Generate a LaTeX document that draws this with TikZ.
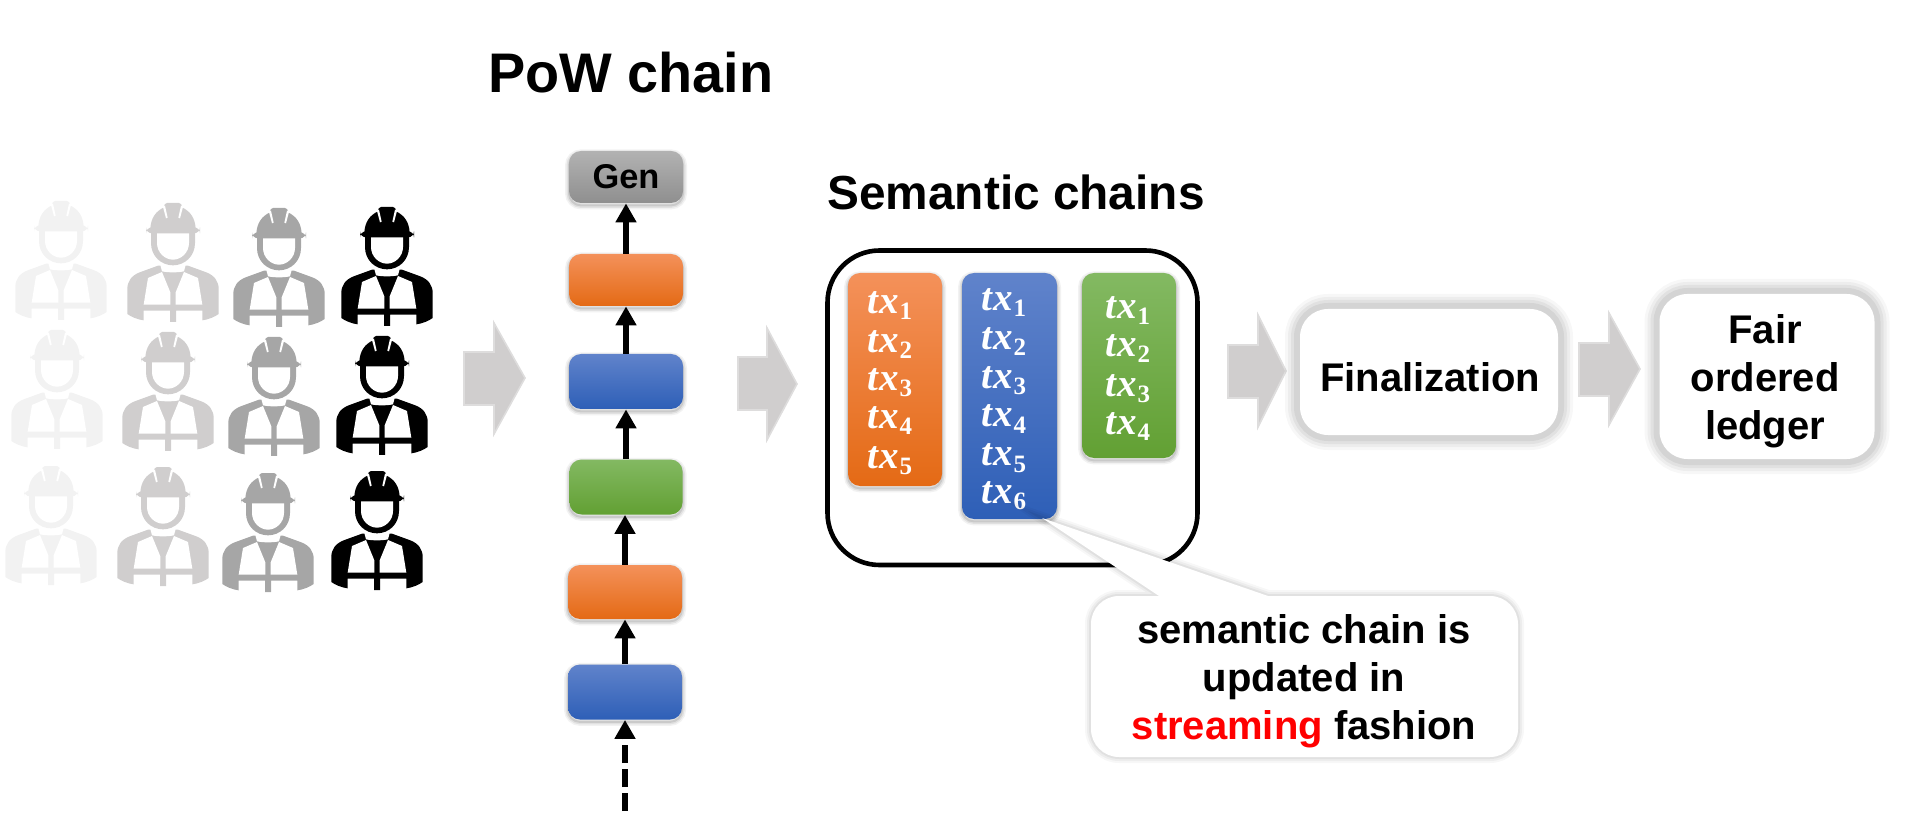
\documentclass[tikz,border=0pt]{standalone}
\usepackage{fontspec}
\setmainfont{Liberation Sans}
\newfontfamily\txfont{Liberation Serif}
\usetikzlibrary{arrows.meta}
\definecolor{wa}{HTML}{F2F2F2}
\definecolor{wb}{HTML}{D0CECE}
\definecolor{wc}{HTML}{A6A6A6}
\definecolor{wd}{HTML}{000000}
\definecolor{orTop}{HTML}{F4915A}\definecolor{orMid}{HTML}{F57C2C}\definecolor{orBot}{HTML}{E46A15}
\definecolor{blTop}{HTML}{6083CB}\definecolor{blMid}{HTML}{3E6EC4}\definecolor{blBot}{HTML}{2E5FB7}
\definecolor{grTop}{HTML}{83B962}\definecolor{grMid}{HTML}{6DAD3C}\definecolor{grBot}{HTML}{62A033}
\definecolor{gyTop}{HTML}{B2B2B2}\definecolor{gyBot}{HTML}{8F8F8F}
\tikzset{
  softshadow/.style={
    preaction={draw=black,draw opacity=.05,line width=4pt,transform canvas={yshift=-1.2pt}},
    preaction={draw=black,draw opacity=.07,line width=2.5pt,transform canvas={yshift=-1.2pt}},
    preaction={draw=black,draw opacity=.10,line width=1pt,transform canvas={yshift=-1.2pt}}},
  glow/.style={
    preaction={draw=black,draw opacity=.03,line width=15pt},
    preaction={draw=black,draw opacity=.04,line width=12pt},
    preaction={draw=black,draw opacity=.05,line width=9pt},
    preaction={draw=black,draw opacity=.06,line width=6pt}},
  lightglow/.style={
    preaction={draw=black,draw opacity=.03,line width=6pt},
    preaction={draw=black,draw opacity=.04,line width=4pt},
    preaction={draw=black,draw opacity=.05,line width=2pt}},
  blockbase/.style={rounded corners=6pt,inner sep=0pt,draw=none,softshadow,shade,shading angle=0},
  orangeblock/.style={blockbase,top color=orTop,middle color=orMid,bottom color=orBot},
  blueblock/.style={blockbase,top color=blTop,middle color=blMid,bottom color=blBot},
  greenblock/.style={blockbase,top color=grTop,middle color=grMid,bottom color=grBot},
  grayblock/.style={blockbase,top color=gyTop,bottom color=gyBot},
  chainarrow/.style={line width=2.6pt,-{Triangle[length=9.5pt,width=10pt]}},
  bigarrow/.style={fill=wb,draw=wb!70!white,line width=.8pt,line join=miter},
  whitebox/.style={fill=white,rounded corners=14pt,inner sep=0pt,align=center,glow},
  boxtext/.style={inner sep=0pt,align=center,font=\bfseries\fontsize{20}{24}\selectfont},
  txlabel/.style={text=white,inner sep=0pt,font=\txfont\bfseries\fontsize{19.5}{20}\selectfont},
  worker/.pic={
    \begin{scope}[scale=1/3]
    \fill[#1] (-45,188) -- (-100,208) .. controls (-125,218) and (-137,235) .. (-137,258) -- (-137,333)
      .. controls (-125,342) and (-105,350) .. (-88,352) -- (-88,323) -- (-9,323) -- (-9,357) -- (9,357)
      -- (9,323) -- (88,323) -- (88,352) .. controls (105,350) and (125,342) .. (137,333) -- (137,258)
      .. controls (137,235) and (125,218) .. (100,208) -- (45,188) -- cycle;
    \fill[white] (-75,225) -- (-33,207) -- (-8,268) -- (-8,305) -- (-88,305) -- cycle;
    \fill[white] (75,225) -- (33,207) -- (8,268) -- (8,305) -- (88,305) -- cycle;
    \fill[white] (-38,186) -- (38,186) -- (33,205) .. controls (15,209) and (-15,209) .. (-33,205) -- cycle;
    \fill[#1] (-66,85) -- (-66,120) .. controls (-66,160) and (-35,187) .. (0,187)
      .. controls (35,187) and (66,160) .. (66,120) -- (66,85) -- cycle;
    \fill[white] (-48,85) -- (-48,120) .. controls (-48,148) and (-25,170) .. (0,170)
      .. controls (25,170) and (48,148) .. (48,120) -- (48,85) -- cycle;
    \fill[#1] (-68,76) .. controls (-66,45) and (-52,25) .. (-27,13) -- (-25,4)
      .. controls (-24,1) and (-22,0) .. (-18,0) -- (18,0) .. controls (22,0) and (24,1) .. (25,4) -- (27,13)
      .. controls (52,25) and (66,45) .. (68,76) -- cycle;
    \fill[#1,rounded corners=3pt] (-81,73) rectangle (81,91);
    \fill[white] (-30,12) -- (-24,8) -- (-16,44) -- (-21,46) -- cycle;
    \fill[white] (30,12) -- (24,8) -- (16,44) -- (21,46) -- cycle;
    \end{scope}
  }
}
\newcommand{\txl}[1]{{\itshape t\kern.4pt x}\kern.3pt\raisebox{-3pt}{\fontsize{12.5}{12.5}\selectfont #1}}
\begin{document}
\begin{tikzpicture}[x=.5pt,y=-.5pt]
\useasboundingbox (0,0) rectangle (1905,839);
\foreach \x/\y/\c in {61/201/wa,173/203/wb,279/208/wc,387/207/wd,
                      57/330/wa,168/332/wb,274/337/wc,382/336/wd,
                      51/466/wa,163/467/wb,268/473/wc,377/471/wd}
  \pic at (\x,\y) {worker=\c};
\path[bigarrow] (464,352) -- (494,352) -- (494,323) -- (525,378) -- (494,434) -- (494,405) -- (464,405) -- cycle;
\path[bigarrow] (738,357) -- (767,357) -- (767,328) -- (797,384) -- (767,440) -- (767,410) -- (738,410) -- cycle;
\path[bigarrow] (1228,345) -- (1258,345) -- (1258,315) -- (1286,371) -- (1258,427) -- (1258,398) -- (1228,398) -- cycle;
\path[bigarrow] (1579,343) -- (1609,343) -- (1609,313) -- (1640,369) -- (1609,425) -- (1609,396) -- (1579,396) -- cycle;
\node[inner sep=0pt,font=\bfseries\fontsize{27.9}{28}\selectfont] (powtitle) at (631,73) {PoW chain};
\node[inner sep=0pt,font=\bfseries\fontsize{23.9}{24}\selectfont] (semtitle) at (1016,192) {Semantic chains};
\node[grayblock,minimum width=57pt,minimum height=26pt,font=\bfseries\fontsize{17.2}{17.2}\selectfont] (gen) at (626,177) {Gen};
\node[orangeblock,minimum width=57pt,minimum height=26pt] (o2) at (626,280) {};
\node[blueblock,minimum width=57pt,minimum height=27.5pt] (b2) at (626,381.5) {};
\node[greenblock,minimum width=56.5pt,minimum height=27.5pt] (g1) at (626,487) {};
\node[orangeblock,minimum width=57pt,minimum height=27pt] (o1) at (625,592) {};
\node[blueblock,minimum width=57pt,minimum height=27.5pt] (b1) at (625,692) {};
\coordinate (dashend) at (625,811);
\coordinate (dashtop) at (625,738);
\draw[chainarrow] (o2.north) -- (gen.south);
\draw[chainarrow] (b2.north) -- (o2.south);
\draw[chainarrow] (g1.north) -- (b2.south);
\draw[chainarrow] (o1.north) -- (o1.north |- g1.south);
\draw[chainarrow] (b1.north) -- (o1.south);
\draw[line width=2.6pt,dash pattern=on 9pt off 3pt] (dashend) -- (dashtop);
\draw[chainarrow] (625,739) -- (b1.south);
\node[draw=black,line width=2.3pt,rounded corners=26pt,fill=white,minimum width=185pt,minimum height=157.25pt,inner sep=0pt] (frame) at (1012.5,407.75) {};
\node[orangeblock,minimum width=47pt,minimum height=106.5pt] (ochain) at (895,379.5) {};
\node[blueblock,minimum width=47.5pt,minimum height=123pt] (bchain) at (1009.5,396) {};
\node[greenblock,minimum width=47pt,minimum height=92.5pt] (gchain) at (1129,365.5) {};
\foreach \i/\y in {1/314,2/353,3/391,4/429,5/468}
  \node[txlabel,anchor=base] (ot\i) at (890,\y) {\txl{\i}};
\foreach \i/\y in {1/311,2/350,3/388,4/427,5/466,6/503}
  \node[txlabel,anchor=base] (bt\i) at (1004,\y) {\txl{\i}};
\foreach \i/\y in {1/319,2/357,3/396,4/434}
  \node[txlabel,anchor=base] (gt\i) at (1128,\y) {\txl{\i}};
\node[whitebox,minimum width=129pt,minimum height=63pt] (final) at (1429,372) {};
\node[boxtext] (finaltext) at (1430,377) {Finalization};
\node[whitebox,minimum width=107.5pt,minimum height=82.5pt] (ledger) at (1767,376.5) {};
\node[boxtext] (ledgertext) at (1765,381) {Fair\\ordered\\ledger};
\coordinate (tip) at (1042,518);
\path[fill=white,lightglow] (1159,596) [sharp corners] -- (tip) -- (1268,596)
  [rounded corners=14pt] -- (1518,596) -- (1518,757) -- (1091,757) -- (1091,596) [sharp corners] -- cycle;
\node[boxtext] (note) at (1304,681.5)
  {semantic chain is\\updated in\\\textcolor{red}{streaming} fashion};
\end{tikzpicture}
\end{document}
